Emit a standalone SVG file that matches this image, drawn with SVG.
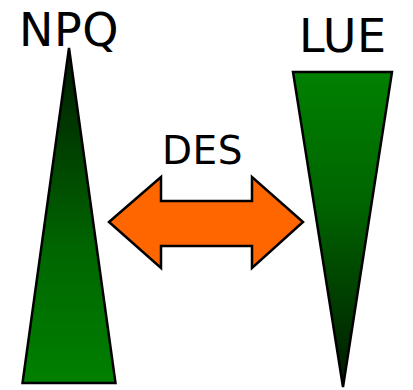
<svg xmlns="http://www.w3.org/2000/svg" width="413" height="390" viewBox="0 0 413 390">
  <style>
    .lbl { font-family: "DejaVu Sans", sans-serif; fill: #000; }
    .tri { stroke: #000; stroke-width: 2.5; stroke-linejoin: miter; }
    .arrow { fill: #ff6600; stroke: #000; stroke-width: 2.5; stroke-linejoin: miter; }
  </style>
  <defs>
    <linearGradient id="gUp" x1="0" y1="0" x2="0" y2="1">
      <stop offset="0" stop-color="#001a00"/>
      <stop offset="0.6" stop-color="#006600"/>
      <stop offset="1" stop-color="#008000"/>
    </linearGradient>
    <linearGradient id="gDown" x1="0" y1="0" x2="0" y2="1">
      <stop offset="0" stop-color="#008000"/>
      <stop offset="0.4" stop-color="#006600"/>
      <stop offset="1" stop-color="#001a00"/>
    </linearGradient>
  </defs>
  <g id="npq">
    <polygon class="tri" fill="url(#gUp)" points="69,48 115.5,383 22.5,383"/>
    <text class="lbl" x="19" y="46" font-size="46" letter-spacing="0.5">NPQ</text>
  </g>
  <g id="lue">
    <polygon class="tri" fill="url(#gDown)" points="293,72 392,72 343,387"/>
    <text class="lbl" x="299" y="52" font-size="46" letter-spacing="0.5">LUE</text>
  </g>
  <g id="des">
    <text class="lbl" x="162" y="164" font-size="39" letter-spacing="0.5">DES</text>
  </g>
  <g id="connectors">
    <polygon class="arrow" points="109,222 161,177 161,201 252,201 252,177 303,222 252,268 252,246 161,246 161,268"/>
  </g>
</svg>
